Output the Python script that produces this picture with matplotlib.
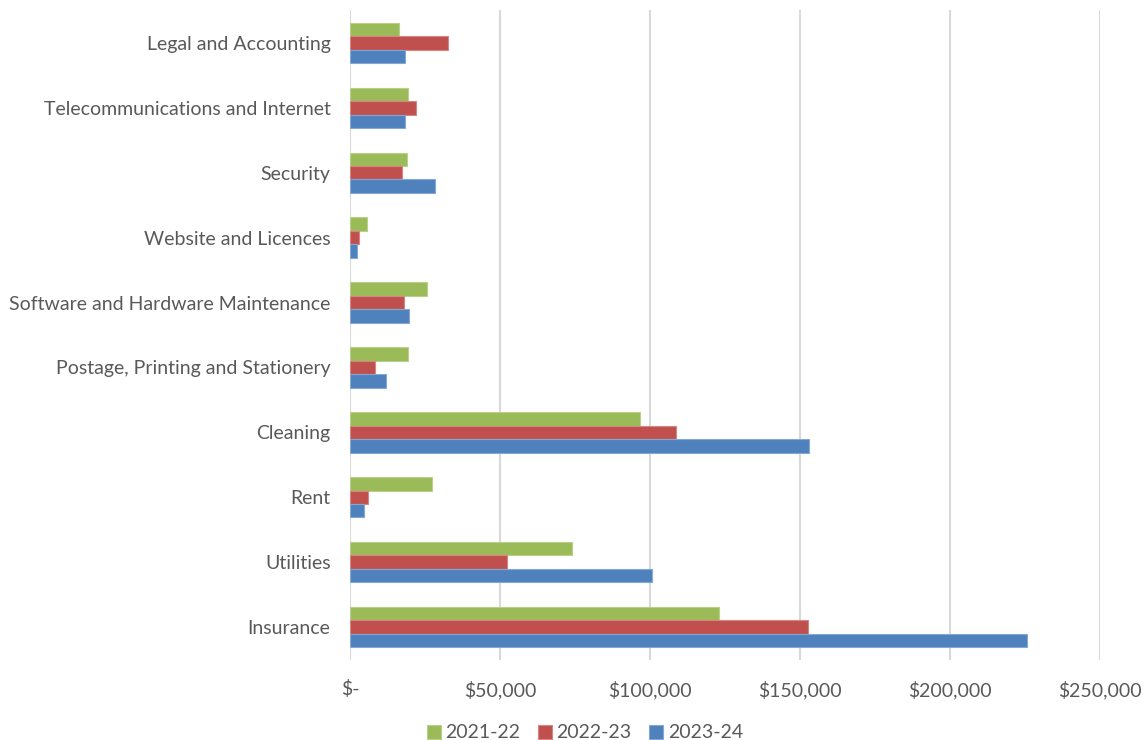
import matplotlib
matplotlib.use("Agg")
from matplotlib import pyplot as plt
import numpy as np

# categories listed bottom to top
categories = ["Insurance", "Utilities", "Rent", "Cleaning",
              "Postage, Printing and Stationery",
              "Software and Hardware Maintenance",
              "Website and Licences", "Security",
              "Telecommunications and Internet", "Legal and Accounting"]

fy2122 = [123000, 74100, 27400, 96800, 19200, 25800, 5700, 18900, 19300, 16300]
fy2223 = [152700, 52400, 6100, 108700, 8300, 18100, 2900, 17400, 22000, 32600]
fy2324 = [225700, 100600, 4800, 152900, 11900, 19800, 2300, 28400, 18300, 18400]

series = ["2021-22", "2022-23", "2023-24"]
colors = ["#9BBB59", "#C0504D", "#4F81BD"]
edges = ["#B9D08A", "#D68583", "#84A7D3"]

plt.rcParams["font.family"] = ["Lato", "DejaVu Sans"]
text_col = "#595959"

fig = plt.figure(figsize=(11.44, 7.4), dpi=100)
ax = fig.add_axes([350 / 1144, 1 - 659.5 / 740, 750 / 1144, 649 / 740])

y = np.arange(len(categories))
h = 0.208
offsets = [h, 0, -h]
for vals, off, c, e, lab in zip([fy2122, fy2223, fy2324], offsets, colors, edges, series):
    ax.barh(y + off, vals, height=h, color=c, edgecolor=e, linewidth=0.8,
            label=lab, zorder=3)

ax.set_xlim(0, 250000)
ax.set_ylim(-0.5, len(categories) - 0.5)
ticks = np.arange(0, 250001, 50000)
ax.set_xticks(ticks)
ax.set_xticklabels(["$-"] + ["${:,}".format(t) for t in ticks[1:]])
ax.set_yticks(y)
ax.set_yticklabels(categories)

ax.grid(axis="x", color="#D9D9D9", linewidth=1.5, zorder=0)
for s in ax.spines.values():
    s.set_visible(False)
ax.tick_params(axis="both", length=0, labelsize=14, labelcolor=text_col)
ax.tick_params(axis="x", pad=15)
ax.tick_params(axis="y", pad=14)

fig.legend(loc="center", bbox_to_anchor=(585 / 1144, 7 / 740), ncol=3,
           frameon=False, fontsize=14, labelcolor=text_col,
           handlelength=0.7, handleheight=0.7, handletextpad=0.25,
           columnspacing=0.9)

fig.savefig("out.png", dpi=100)
